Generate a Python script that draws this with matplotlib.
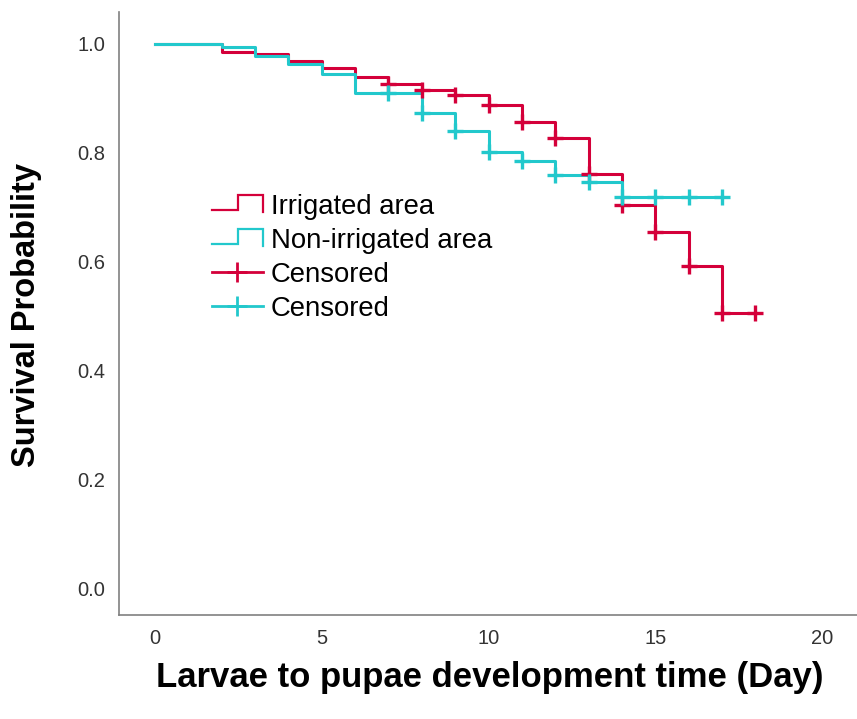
import numpy as np
import matplotlib
matplotlib.use('Agg')
import matplotlib.pyplot as plt
from matplotlib.lines import Line2D
from matplotlib.legend_handler import HandlerBase

plt.rcParams['font.family'] = ['Liberation Sans', 'DejaVu Sans']

# Kaplan-Meier steps
days_irr = [0, 2, 3, 4, 5, 6, 7, 8, 9, 10, 11, 12, 13, 14, 15, 16, 17, 18]
surv_irr = [1.0, 0.986, 0.981, 0.969, 0.955, 0.940, 0.926, 0.916, 0.907, 0.887,
            0.857, 0.828, 0.761, 0.704, 0.655, 0.591, 0.505, 0.505]
days_non = [0, 2, 3, 4, 5, 6, 8, 9, 10, 11, 12, 13, 14, 17]
surv_non = [1.0, 0.995, 0.978, 0.963, 0.945, 0.909, 0.874, 0.840, 0.802, 0.784,
            0.759, 0.746, 0.719, 0.719]

# censored times
cens_irr = [7, 8, 9, 10, 11, 12, 13, 14, 15, 16, 17, 18]
cens_non = [7, 8, 9, 10, 11, 12, 13, 14, 15, 16, 17]

labels = ['Irrigated area', 'Non-irrigated area', 'Censored', 'Censored']
red = '#D4003A'
teal = '#22C8CC'


def surv_at(t, days, surv):
    i = np.searchsorted(days, t, side='right') - 1
    return surv[i]


class StepHandler(HandlerBase):
    # little step icon like the SPSS legend
    def create_artists(self, legend, orig_handle, xdescent, ydescent,
                       width, height, fontsize, trans):
        x0 = -xdescent
        xs = [x0, x0 + 0.52 * width, x0 + 0.52 * width, x0 + width, x0 + width]
        ys = [0.2 * height, 0.2 * height, 1.0 * height, 1.0 * height, 0.12 * height]
        ln = Line2D(xs, ys, color=orig_handle.get_color(),
                    lw=orig_handle.get_linewidth(), solid_joinstyle='miter')
        ln.set_transform(trans)
        return [ln]


fig = plt.figure(figsize=(8.57, 7.19), dpi=100)
ax = fig.add_axes([119 / 857, 1 - 615 / 719, 1 - 119 / 857, (615 - 12) / 719])

ax.step(days_irr, surv_irr, where='post', color=red, lw=2.2)
ax.step(days_non, surv_non, where='post', color=teal, lw=2.2)

yc_irr = [surv_at(t, days_irr, surv_irr) for t in cens_irr]
yc_non = [surv_at(t, days_non, surv_non) for t in cens_non]
ax.plot(cens_irr, yc_irr, ls='none', marker='+', ms=11, mew=2.4, color=red)
ax.plot(cens_non, yc_non, ls='none', marker='+', ms=11, mew=2.4, color=teal)

ax.set_xlim(-1.08, 21.05)
ax.set_ylim(-0.0496, 1.0588)
ax.set_xticks([0, 5, 10, 15, 20])
ax.set_yticks([0.0, 0.2, 0.4, 0.6, 0.8, 1.0])
ax.set_yticklabels(['0.0', '0.2', '0.4', '0.6', '0.8', '1.0'])
ax.tick_params(length=0, pad=10, labelsize=14.5, labelcolor='#333333')

for s in ['top', 'right']:
    ax.spines[s].set_visible(False)
for s in ['left', 'bottom']:
    ax.spines[s].set_color('#808080')
    ax.spines[s].set_linewidth(1.2)

fig.text(0.5 * (152 + 828) / 857, 1 - 677 / 719, 'Larvae to pupae development time (Day)',
         ha='center', va='center', fontsize=25, fontweight='bold')
fig.text(27 / 857, 1 - 315 / 719, 'Survival Probability', rotation=90,
         ha='center', va='center', fontsize=23.5, fontweight='bold')

h1 = Line2D([], [], color=red, lw=1.6)
h2 = Line2D([], [], color=teal, lw=1.6)
h3 = Line2D([], [], color=red, lw=2.0, marker='+', ms=15, mew=2.0)
h4 = Line2D([], [], color=teal, lw=2.0, marker='+', ms=15, mew=2.0)
fig.legend([h1, h2, h3, h4], labels, loc='upper left',
           bbox_to_anchor=(212 / 857, 1 - 194 / 719), frameon=False,
           borderpad=0, borderaxespad=0, fontsize=19.8, handlelength=1.85,
           handletextpad=0.3, labelspacing=0.29,
           handler_map={h1: StepHandler(), h2: StepHandler()})

fig.savefig('out.png', dpi=100)
